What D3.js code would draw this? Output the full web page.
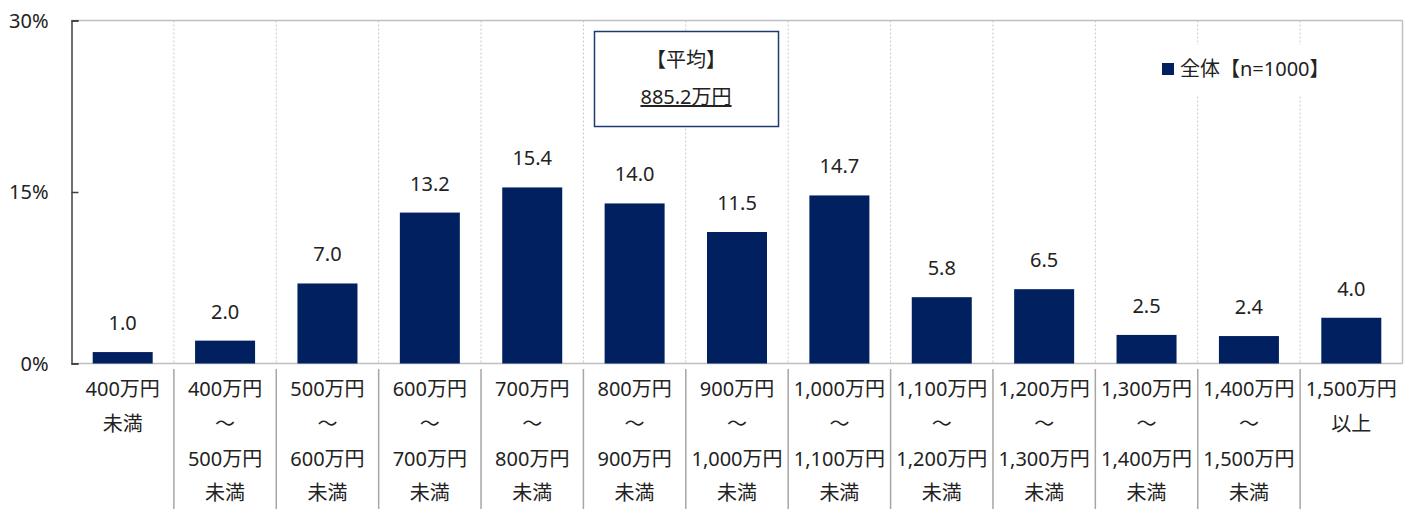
<!DOCTYPE html>
<html>
<head>
<meta charset="utf-8">
<script src="https://cdn.jsdelivr.net/npm/d3@7"></script>
<style>
  body { margin: 0; background: #fff; }
  text { font-family: "Noto Sans", "Noto Sans CJK JP", sans-serif; fill: #222; }
</style>
</head>
<body>
<svg id="chart" width="1415" height="509"></svg>
<script>
const categories = [
  "400万円\n未満",
  "400万円\n～\n500万円\n未満",
  "500万円\n～\n600万円\n未満",
  "600万円\n～\n700万円\n未満",
  "700万円\n～\n800万円\n未満",
  "800万円\n～\n900万円\n未満",
  "900万円\n～\n1,000万円\n未満",
  "1,000万円\n～\n1,100万円\n未満",
  "1,100万円\n～\n1,200万円\n未満",
  "1,200万円\n～\n1,300万円\n未満",
  "1,300万円\n～\n1,400万円\n未満",
  "1,400万円\n～\n1,500万円\n未満",
  "1,500万円\n以上"
]
const values = [1.0, 2.0, 7.0, 13.2, 15.4, 14.0, 11.5, 14.7, 5.8, 6.5, 2.5, 2.4, 4.0]
const yTicks = [0, 15, 30]
const seriesName = "全体【n=1000】"
const avgTitle = "【平均】"
const avgValue = "885.2万円"

const navy = "#002060"
const fs = 20
const svg = d3.select("#chart")
const m = { left: 71.5, right: 1402.5, top: 20.5, bottom: 363.5 }

const x = d3.scaleBand().domain(d3.range(categories.length))
  .range([m.left, m.right]).paddingInner(0.414).paddingOuter(0.207)
const y = d3.scaleLinear().domain([0, 30]).range([m.bottom, m.top])
const step = x.step()

// dotted separators inside the plot
svg.append("g").selectAll("line")
  .data(d3.range(1, categories.length))
  .join("line")
  .attr("x1", i => m.left + i * step).attr("x2", i => m.left + i * step)
  .attr("y1", m.top).attr("y2", m.bottom)
  .attr("stroke", "#c8c8c8").attr("stroke-dasharray", "2,2")

// frame
svg.append("line").attr("x1", m.left).attr("x2", m.right).attr("y1", m.top).attr("y2", m.top)
  .attr("stroke", "#bfbfbf").attr("stroke-width", 1.5)
svg.append("line").attr("x1", m.right).attr("x2", m.right).attr("y1", m.top).attr("y2", m.bottom)
  .attr("stroke", "#bfbfbf").attr("stroke-width", 1.5)
svg.append("line").attr("x1", m.left).attr("x2", m.right).attr("y1", m.bottom).attr("y2", m.bottom)
  .attr("stroke", "#bfbfbf").attr("stroke-width", 1.5)

// bars
svg.append("g").selectAll("rect")
  .data(values)
  .join("rect")
  .attr("x", (d, i) => x(i)).attr("width", x.bandwidth())
  .attr("y", d => y(d)).attr("height", d => y(0) - y(d))
  .attr("fill", navy)

// value labels
svg.append("g").selectAll("text")
  .data(values)
  .join("text")
  .attr("x", (d, i) => x(i) + x.bandwidth() / 2)
  .attr("y", d => y(d) - 22)
  .attr("text-anchor", "middle")
  .attr("font-size", fs)
  .text(d => d.toFixed(1))

// y axis
const yAxis = d3.axisLeft(y).tickValues(yTicks).tickSize(-7).tickPadding(23)
  .tickFormat(d => d + "%")
const ga = svg.append("g").attr("transform", `translate(${m.left},0)`).call(yAxis)
ga.select(".domain").attr("stroke", "#404040").attr("stroke-width", 1.5)
ga.selectAll(".tick line").attr("stroke", "#404040").attr("stroke-width", 1.5)
ga.selectAll(".tick text").attr("font-size", fs).attr("fill", "#222")
  .attr("font-family", "\"Noto Sans\", sans-serif").attr("dy", "0.34em")

// category separators below the axis
svg.append("g").selectAll("line")
  .data(d3.range(1, categories.length))
  .join("line")
  .attr("x1", i => m.left + i * step).attr("x2", i => m.left + i * step)
  .attr("y1", 369).attr("y2", 509)
  .attr("stroke", "#a6a6a6").attr("stroke-width", 1.5)

// category labels
const cat = svg.append("g").selectAll("text")
  .data(categories)
  .join("text")
  .attr("text-anchor", "middle")
  .attr("font-size", fs)
cat.selectAll("tspan")
  .data((d, i) => d.split("\n").map((t, k) => ({ t, k, i })))
  .join("tspan")
  .attr("x", d => x(d.i) + x.bandwidth() / 2)
  .attr("y", d => 396 + d.k * 34.8)
  .text(d => d.t)

// average box
const avg = svg.append("g")
avg.append("rect").attr("x", 594.5).attr("y", 31.5).attr("width", 184).attr("height", 95)
  .attr("fill", "#fff").attr("stroke", "#1f3a73").attr("stroke-width", 1.5)
avg.append("text").attr("x", 686).attr("y", 67).attr("text-anchor", "middle")
  .attr("font-size", fs).text(avgTitle)
avg.append("text").attr("x", 686).attr("y", 104).attr("text-anchor", "middle")
  .attr("font-size", fs).attr("text-decoration", "underline").text(avgValue)

// legend
const lg = svg.append("g")
lg.append("rect").attr("x", 1150).attr("y", 45).attr("width", 192).attr("height", 50).attr("fill", "#fff")
lg.append("rect").attr("x", 1162).attr("y", 63).attr("width", 12).attr("height", 12).attr("fill", navy)
lg.append("text").attr("x", 1180).attr("y", 76).attr("font-size", fs).text(seriesName)
</script>
</body>
</html>
